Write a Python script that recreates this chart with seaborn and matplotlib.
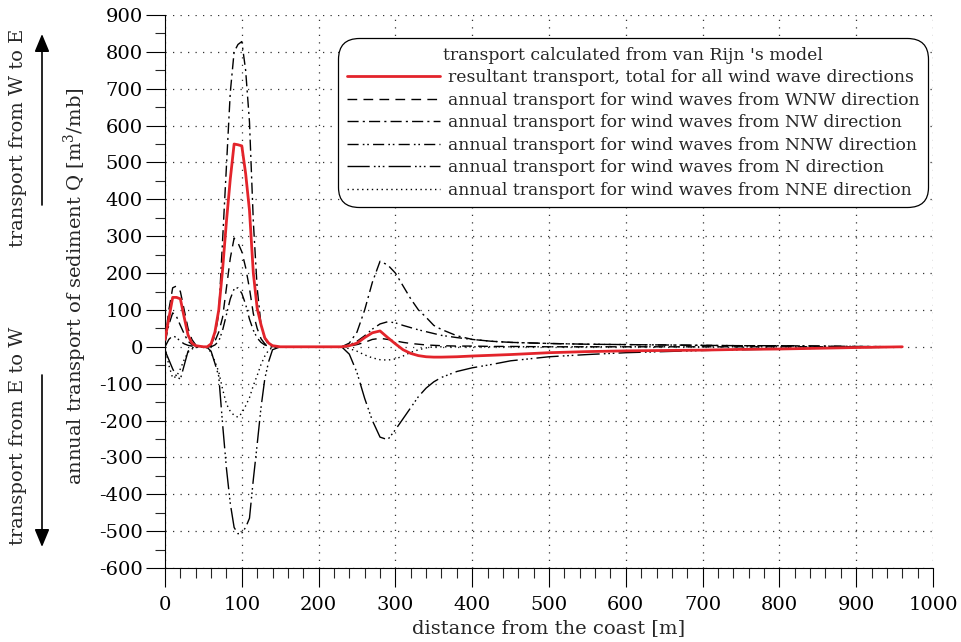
import matplotlib
matplotlib.use('Agg')
import matplotlib.pyplot as plt
import seaborn as sns
from matplotlib.ticker import MultipleLocator

# distance from the coast [m]
dist = [0, 5, 10, 15, 20, 25, 30, 35, 40, 50, 55, 60, 65, 70, 75, 80, 85, 90, 95, 100,
        105, 110, 115, 120, 125, 130, 135, 140, 150, 200, 230, 240, 250, 260, 270, 280,
        290, 300, 310, 320, 330, 340, 350, 360, 380, 400, 425, 450, 500, 550, 600, 650,
        700, 750, 800, 850, 900, 960]

# resultant transport, total
q_total = [20, 77, 134, 134, 130, 80, 32, 10, 3, 0, 0, 8, 40, 100, 210, 340, 455, 550, 548, 545,
           470, 370, 200, 105, 60, 24, 10, 3, 0, 0, 0, 3, 10, 25, 38, 43,
           25, 8, -8, -18, -24, -27, -28, -28, -27, -25, -23, -21, -16, -13, -11, -10,
           -9, -7, -6, -4, -2, 0]

q_wnw = [15, 100, 160, 165, 150, 100, 50, 20, 5, 0, 0, 3, 15, 40, 80, 160, 240, 295, 282, 258,
         215, 158, 90, 50, 22, 8, 3, 1, 0, 0, 0, 2, 6, 12, 20, 23,
         20, 16, 12, 9, 7, 5, 4, 3, 2, 2, 1, 1, 0, 0, 0, 0,
         0, 0, 0, 0, 0, 0]

q_nw = [10, 60, 92, 82, 58, 35, 15, 6, 2, 0, 0, 5, 30, 90, 290, 490, 690, 800, 820, 828,
        750, 610, 340, 160, 60, 22, 6, 1, 0, 0, 0, 10, 40, 100, 175, 232,
        222, 200, 165, 130, 100, 80, 58, 47, 30, 20, 15, 12, 9, 7, 6, 5,
        4, 3, 3, 2, 1, 0]

q_nnw = [0, 20, 30, 25, 15, 8, 4, 2, 0, 0, 0, 0, 5, 15, 45, 87, 130, 157, 160, 145,
         115, 75, 45, 24, 12, 5, 2, 0, 0, 0, 0, 5, 15, 30, 48, 62,
         68, 65, 58, 52, 46, 41, 36, 31, 25, 20, 15, 12, 9, 7, 6, 5,
         4, 3, 3, 2, 1, 0]

q_n = [-10, -35, -60, -80, -88, -50, -12, -3, 0, 0, -2, -12, -45, -80, -210, -330, -425, -490, -507, -505,
       -490, -465, -360, -265, -165, -86, -40, -8, 0, 0, 0, -20, -70, -140, -200, -245,
       -252, -225, -195, -165, -135, -112, -95, -83, -67, -57, -48, -38, -27, -21, -16, -13,
       -10, -8, -6, -4, -2, -1]

q_nne = [0, -50, -85, -80, -60, -35, -15, -6, -2, 0, -3, -15, -40, -68, -115, -155, -175, -186, -191, -180,
         -160, -138, -105, -78, -48, -25, -9, -2, 0, 0, 0, -5, -12, -22, -30, -35,
         -36, -33, -25, -15, -8, -3, 0, 0, 0, 0, 0, 0, 0, 0, 0, 0,
         0, 0, 0, 0, 0, 0]

labels = ['resultant transport, total for all wind wave directions',
          'annual transport for wind waves from WNW direction',
          'annual transport for wind waves from NW direction',
          'annual transport for wind waves from NNW direction',
          'annual transport for wind waves from N direction',
          'annual transport for wind waves from NNE direction']

sns.set_style('ticks')
plt.rcParams['font.family'] = ['DejaVu Serif']
plt.rcParams['mathtext.fontset'] = 'dejavuserif'
plt.rcParams['axes.unicode_minus'] = False

fig = plt.figure(figsize=(9.61, 6.42), dpi=100)
ax = fig.add_axes([165 / 961, 1 - 568 / 642, 768 / 961, 553 / 642])

series = [q_wnw, q_nw, q_nnw, q_n, q_nne]
styles = [(0, (7, 4.5)),
          (0, (8, 3, 1.5, 3)),
          (0, (8, 3, 1.2, 2, 1.2, 3)),
          (0, (16, 3, 1.2, 2, 1.2, 2, 1.2, 3)),
          (0, (1, 2.5))]

sns.lineplot(x=dist, y=q_total, ax=ax, color='#e3242b', linewidth=2, label=labels[0], zorder=5)
for q, ls, lab in zip(series, styles, labels[1:]):
    sns.lineplot(x=dist, y=q, ax=ax, color='black', linewidth=1, linestyle=ls, label=lab)

ax.set_xlim(0, 1000)
ax.set_ylim(-600, 900)
ax.xaxis.set_major_locator(MultipleLocator(100))
ax.xaxis.set_minor_locator(MultipleLocator(20))
ax.yaxis.set_major_locator(MultipleLocator(100))
ax.yaxis.set_minor_locator(MultipleLocator(50))
ax.tick_params(which='major', direction='out', length=14, width=0.8, labelsize=14, colors='black')
ax.tick_params(which='minor', direction='out', length=7, width=0.8)
ax.tick_params(axis='y', which='major', pad=2)
ax.tick_params(axis='x', which='major', pad=6)
ax.grid(True, which='major', color='#333333', linestyle=(0, (1, 5)), linewidth=0.9)
sns.despine(ax=ax)
for s in ['left', 'bottom']:
    ax.spines[s].set_linewidth(0.8)
    ax.spines[s].set_color('black')

ax.set_xlabel('distance from the coast [m]', fontsize=14, labelpad=4)
ax.set_ylabel('')
fig.text(75 / 961, 1 - 286 / 642, 'annual transport of sediment Q [m$^3$/mb]',
         rotation=90, ha='center', va='center', fontsize=14)
fig.text(18 / 961, 1 - 138 / 642, 'transport from W to E', rotation=90,
         ha='center', va='center', fontsize=14)
fig.text(18 / 961, 1 - 436 / 642, 'transport from E to W', rotation=90,
         ha='center', va='center', fontsize=14)
arrow = dict(arrowstyle='-|>,head_length=0.6,head_width=0.25', color='black',
             lw=1.2, mutation_scale=18, shrinkA=0, shrinkB=0)
ax.annotate('', xy=(42 / 961, 1 - 34 / 642), xytext=(42 / 961, 1 - 205 / 642),
            xycoords='figure fraction', textcoords='figure fraction',
            arrowprops=arrow, annotation_clip=False)
ax.annotate('', xy=(42 / 961, 1 - 547 / 642), xytext=(42 / 961, 1 - 375 / 642),
            xycoords='figure fraction', textcoords='figure fraction',
            arrowprops=arrow, annotation_clip=False)

leg = ax.legend(title="transport calculated from van Rijn 's model", loc='upper right',
                bbox_to_anchor=(922 / 961, 1 - 44 / 642), bbox_transform=fig.transFigure,
                borderaxespad=0, fontsize=12.4, title_fontsize=12.4, handlelength=5.4,
                handletextpad=0.45, labelspacing=0.32, frameon=True, fancybox=True,
                framealpha=1, edgecolor='black', borderpad=0.15)
leg.get_frame().set_boxstyle('round', pad=0.35, rounding_size=1.2)
leg.get_frame().set_linewidth(0.9)

fig.savefig('out.png', dpi=100)
